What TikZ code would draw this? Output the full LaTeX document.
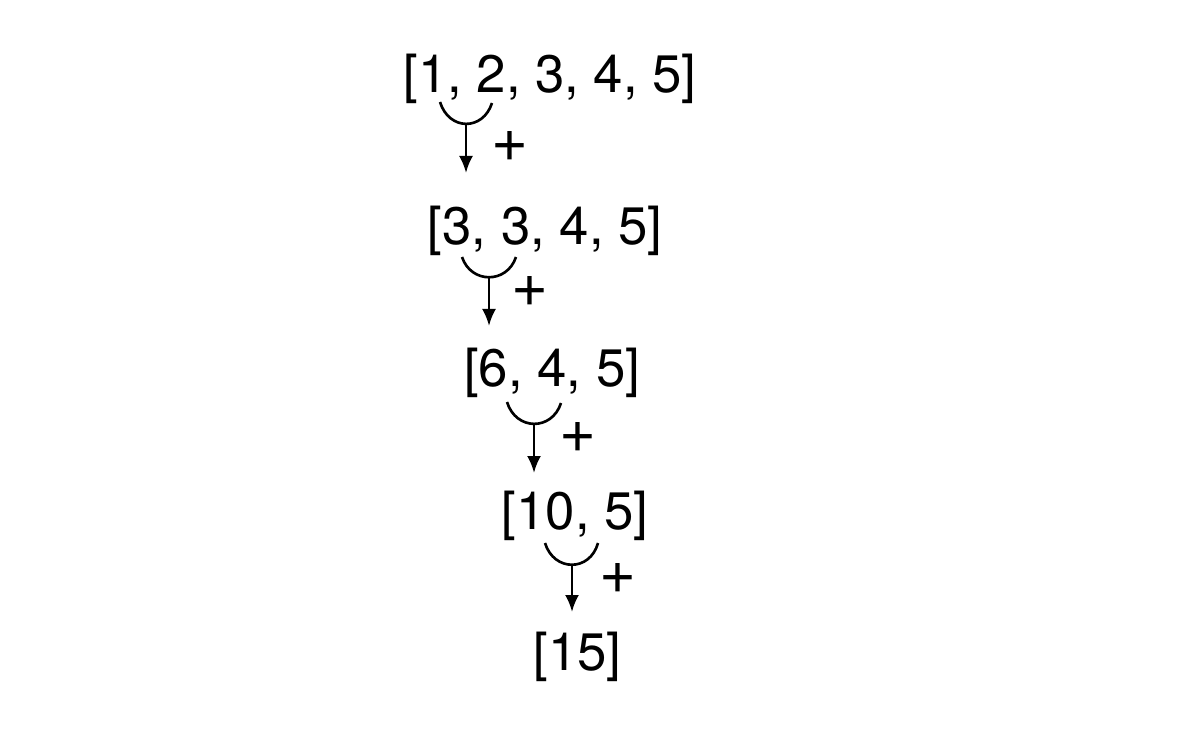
\documentclass[tikz,border=0pt]{standalone}
\usepackage{fontspec}
\setmainfont{TeX Gyre Heros}
\usetikzlibrary{arrows.meta}
\tikzset{
  lst/.style={inner sep=0pt,font=\fontsize{15}{18}\selectfont},
  plus/.style={inner sep=0pt,font=\fontsize{18}{20}\selectfont},
  pairarc/.style={line width=0.75pt},
  sumarrow/.style={line width=0.75pt,-{Latex[length=1.7mm,width=1.4mm]}}
}
\begin{document}
\begin{tikzpicture}[x=0.01cm,y=-0.01cm]
\useasboundingbox (0,0) rectangle (1200,742);

\node[lst] (r1) at (550,78.5) {[1, 2, 3, 4, 5]};
\node[lst] (r2) at (545,231) {[3, 3, 4, 5]};
\node[lst] (r3) at (552,373) {[6, 4, 5]};
\node[lst] (r4) at (575,515.5) {[10, 5]};
\node[lst] (r5) at (577.5,656.5) {[15]};

\coordinate (a1l) at (440,102);
\coordinate (a1r) at (492,103);
\coordinate (a1b) at (466,124);
\coordinate (a1e) at (466,173);
\draw[pairarc] (a1l) .. controls (449,131) and (483,131) .. (a1r);
\draw[sumarrow] (a1b) -- (a1e);
\node[plus] (p1) at (510,146) {+};

\coordinate (a2l) at (462,257);
\coordinate (a2r) at (516,257);
\coordinate (a2b) at (489,277);
\coordinate (a2e) at (489,326);
\draw[pairarc] (a2l) .. controls (471,284) and (507,284) .. (a2r);
\draw[sumarrow] (a2b) -- (a2e);
\node[plus] (p2) at (530,291) {+};

\coordinate (a3l) at (507,402);
\coordinate (a3r) at (561,403);
\coordinate (a3b) at (534,425);
\coordinate (a3e) at (534,473);
\draw[pairarc] (a3l) .. controls (516,431) and (552,431) .. (a3r);
\draw[sumarrow] (a3b) -- (a3e);
\node[plus] (p3) at (578,437) {+};

\coordinate (a4l) at (545,543);
\coordinate (a4r) at (598,543);
\coordinate (a4b) at (572,565);
\coordinate (a4e) at (572,612);
\draw[pairarc] (a4l) .. controls (554,572) and (590,572) .. (a4r);
\draw[sumarrow] (a4b) -- (a4e);
\node[plus] (p4) at (618,578) {+};
\end{tikzpicture}
\end{document}
